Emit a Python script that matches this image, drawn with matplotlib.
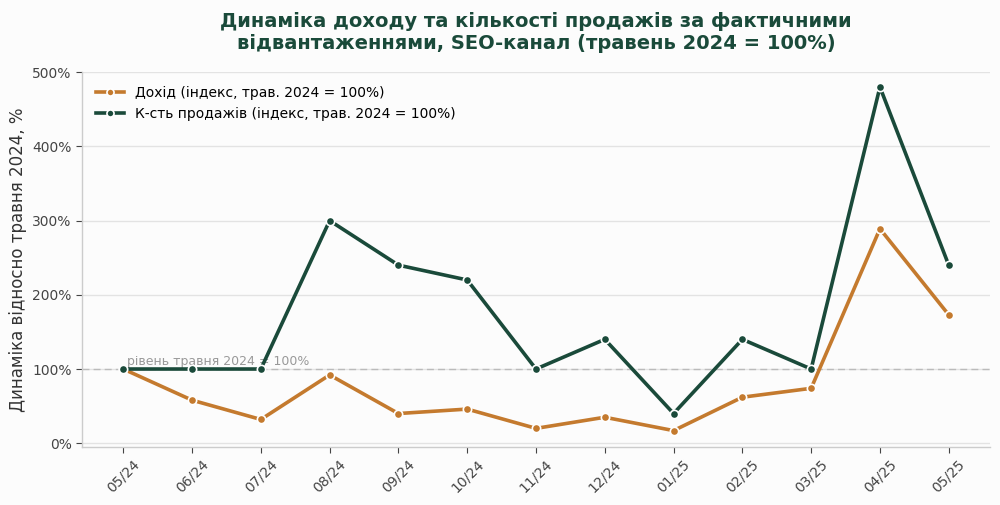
import matplotlib.pyplot as plt

# данные (трав. 2024 = 100%)
months = ['05/24', '06/24', '07/24', '08/24', '09/24', '10/24', '11/24',
          '12/24', '01/25', '02/25', '03/25', '04/25', '05/25']
revenue_idx = [100, 58, 32, 92, 40, 46, 20, 35, 17, 62, 74, 289, 173]
sales_idx = [100, 100, 100, 300, 240, 220, 100, 140, 40, 140, 100, 480, 240]

c_orange = '#c47a2e'
c_green = '#1a4a3a'
bg = '#fcfcfc'

plt.rcParams['font.family'] = ['DejaVu Sans']

fig = plt.figure(figsize=(10, 5.05), dpi=100, facecolor=bg)
ax = fig.add_axes([0.082, 0.115, 0.908, 0.742], facecolor=bg)

x = list(range(len(months)))

ax.axhline(100, color='#bbbbbb', lw=1, ls=(0, (5, 3)), zorder=1)
ax.text(0.06, 102, 'рівень травня 2024 = 100%', color='#999999',
        fontsize=9, va='bottom', ha='left', zorder=2)

ax.plot(x, revenue_idx, color=c_orange, lw=2.6, marker='o', ms=6,
        mec='white', mew=1.2, label='Дохід (індекс, трав. 2024 = 100%)', zorder=3)
ax.plot(x, sales_idx, color=c_green, lw=2.6, marker='o', ms=6,
        mec='white', mew=1.2, label='К-сть продажів (індекс, трав. 2024 = 100%)', zorder=4)

ax.set_xlim(-0.6, 12.6)
ax.set_ylim(-5, 500)
ax.set_yticks([0, 100, 200, 300, 400, 500])
ax.set_yticklabels(['0%', '100%', '200%', '300%', '400%', '500%'])
ax.set_xticks(x)
ax.set_xticklabels(months, rotation=45)

ax.grid(axis='y', color='#e3e3e3', lw=1)
ax.set_axisbelow(True)
for s in ['top', 'right']:
    ax.spines[s].set_visible(False)
for s in ['left', 'bottom']:
    ax.spines[s].set_color('#cccccc')
    ax.spines[s].set_linewidth(1)
ax.tick_params(axis='both', colors='#444444', labelsize=10, length=4)

ax.set_ylabel('Динаміка відносно травня 2024, %', fontsize=12, color='#333333')
ax.set_title('Динаміка доходу та кількості продажів за фактичними\n'
             'відвантаженнями, SEO-канал (травень 2024 = 100%)',
             fontsize=14, fontweight='bold', color='#1a4a3a', pad=17, linespacing=1.2)

ax.legend(loc='upper left', frameon=False, fontsize=10, handlelength=2.0,
          borderaxespad=0.6, labelspacing=0.5, markerscale=0.85)

fig.savefig('out.png', dpi=100, facecolor=bg)
